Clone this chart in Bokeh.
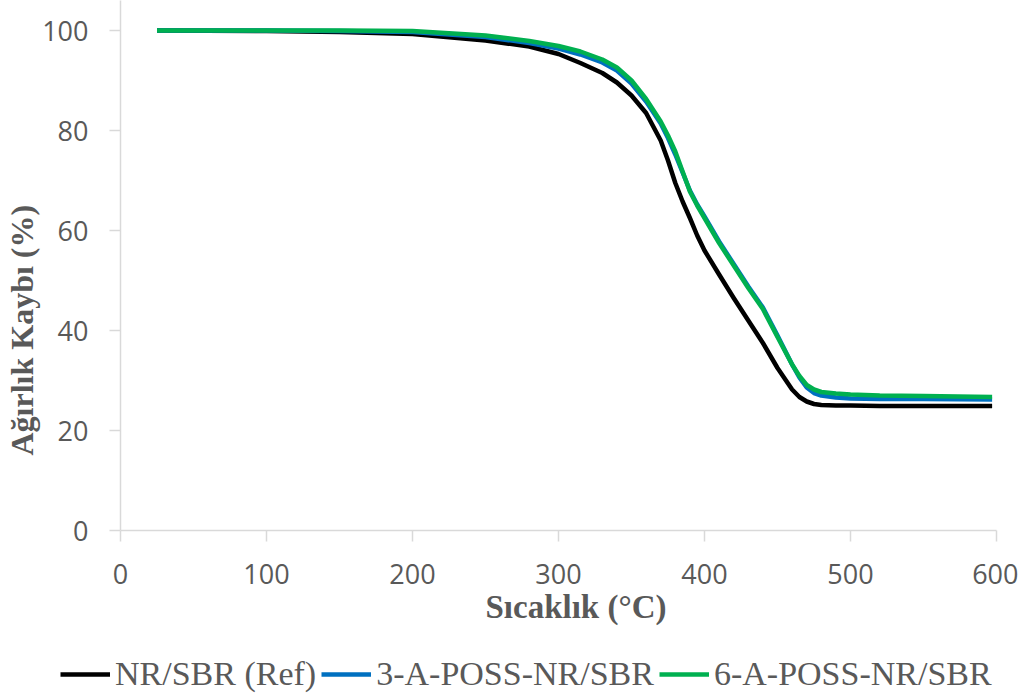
from bokeh.plotting import figure
from bokeh.models import Range1d, Legend, LegendItem, Title, FixedTicker
from bokeh.layouts import column
from bokeh.embed import file_html
from bokeh.resources import INLINE

# Temperature (°C)
temp = [25, 100, 150, 200, 250, 280, 300, 315, 330, 340, 350, 360, 370, 375, 380, 385, 390, 395,
        400, 410, 420, 430, 440, 450, 460, 465, 470, 475, 480, 490, 500, 520, 550, 597]
# Weight (%)
nr_sbr = [100, 99.9, 99.7, 99.3, 98.0, 96.8, 95.3, 93.5, 91.5, 89.6, 87.0, 83.5, 78.0, 74.0, 69.5, 65.8, 62.5, 59.0,
          56.0, 51.2, 46.5, 42.0, 37.5, 32.5, 28.2, 26.7, 25.8, 25.3, 25.1, 25.0, 25.0, 24.9, 24.9, 24.9]
poss3 = [100, 100, 99.9, 99.7, 98.7, 97.5, 96.4, 95.2, 93.6, 92.0, 89.4, 85.8, 81.4, 78.5, 75.2, 71.6, 68.0, 65.2,
         62.8, 57.8, 53.3, 48.8, 44.6, 39.0, 33.2, 30.6, 28.6, 27.5, 27.0, 26.6, 26.4, 26.3, 26.3, 26.2]
poss6 = [100, 100, 100, 99.9, 99.0, 97.9, 96.9, 95.8, 94.2, 92.6, 90.0, 86.3, 81.8, 79.0, 75.8, 71.8, 67.8, 65.0,
         62.5, 57.5, 53.0, 48.5, 44.3, 38.7, 33.2, 30.9, 29.1, 28.2, 27.7, 27.4, 27.2, 27.0, 26.9, 26.7]

series_names = ["NR/SBR (Ref)", "3-A-POSS-NR/SBR", "6-A-POSS-NR/SBR"]
series_colors = ["#000000", "#0070C0", "#00B050"]
series_values = [nr_sbr, poss3, poss6]
x_ticks = [0, 100, 200, 300, 400, 500, 600]
y_ticks = [0, 20, 40, 60, 80, 100]

gray = "#595959"
axcol = "#d9d9d9"

p = figure(width=1018, height=653, output_backend="svg", toolbar_location=None,
           x_range=Range1d(0, 600), y_range=Range1d(0, 106),
           min_border_left=120, min_border_right=22, min_border_top=0, min_border_bottom=123)
p.frame_align = False
p.outline_line_color = None
p.grid.visible = False

for ax in (p.xaxis[0], p.yaxis[0]):
    ax.axis_line_color = axcol
    ax.axis_line_width = 1.5
    ax.major_tick_line_color = axcol
    ax.major_tick_line_width = 1.5
    ax.minor_tick_line_color = None
    ax.major_tick_in = 0
    ax.major_tick_out = 11
    ax.major_label_text_font = "Open Sans"
    ax.major_label_text_font_size = "27px"
    ax.major_label_text_color = gray

p.xaxis.ticker = FixedTicker(ticks=x_ticks)
p.yaxis.ticker = FixedTicker(ticks=y_ticks)
p.xaxis.major_label_standoff = 22
p.yaxis.major_label_standoff = 21

xt = Title(text="Sıcaklık (°C)", align="left", offset=365, standoff=0,
           text_font="Liberation Serif", text_font_style="bold", text_font_size="33px",
           text_color=gray)
p.add_layout(xt, "below")
yt = Title(text="Ağırlık Kaybı (%)", align="left", offset=75, standoff=0,
           text_font="Liberation Serif", text_font_style="bold", text_font_size="32px",
           text_color=gray)
p.add_layout(yt, "left")

for ys, c in zip(series_values, series_colors):
    p.line(temp, ys, line_color=c, line_width=4.5, line_join="round")

# legend strip (series drawn outside its view range, only legend keys show)
lf = figure(width=1018, height=40, output_backend="svg", toolbar_location=None,
            x_range=Range1d(-2, -1), y_range=Range1d(-2, -1),
            x_axis_type=None, y_axis_type=None,
            min_border_left=0, min_border_right=0, min_border_top=0, min_border_bottom=0)
lf.frame_align = False
lf.outline_line_color = None
lf.grid.visible = False
items = []
for n, ys, c in zip(series_names, series_values, series_colors):
    r = lf.line(temp, ys, line_color=c, line_width=4.5)
    items.append(LegendItem(label=n, renderers=[r]))
legend = Legend(items=items, orientation="horizontal", location=(60, 0),
                label_text_font="Liberation Serif", label_text_font_size="34px",
                label_text_color=gray, glyph_width=50, glyph_height=20, label_height=20,
                label_standoff=5, spacing=5, padding=0, margin=0,
                border_line_alpha=0, background_fill_alpha=0)
lf.add_layout(legend)

layout = column(p, lf, spacing=0)
open("out.html", "w").write(file_html(layout, INLINE))
